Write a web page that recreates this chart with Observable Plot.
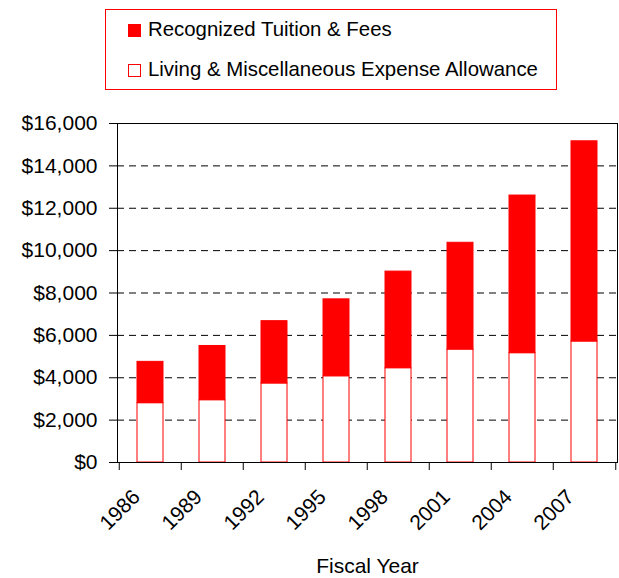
<!DOCTYPE html>
<html><head><meta charset="utf-8">
<script src="https://cdn.jsdelivr.net/npm/d3@7"></script>
<script src="https://cdn.jsdelivr.net/npm/@observablehq/plot@0.6"></script>
<style>
body{margin:0;background:#fff;font-family:"Liberation Sans",Arial,sans-serif;}
#wrap{position:relative;width:619px;height:578px;}
#chart{position:absolute;left:0;top:0;}
#legend{position:absolute;left:105px;top:9px;width:452px;height:81px;box-sizing:border-box;border:1px solid #ff0000;background:#fff;}
.sw{position:absolute;left:22px;width:13px;height:13px;box-sizing:border-box;border:1px solid #ff0000;}
.lt{position:absolute;left:42px;font-size:20.4px;line-height:22px;color:#000;white-space:nowrap;}
</style></head><body>
<div id="wrap"><div id="chart"></div><div id="legend"></div></div>
<script>
const years = ["1986","1989","1992","1995","1998","2001","2004","2007"];
const living = [2800, 2940, 3730, 4070, 4450, 5330, 5160, 5710];
const tuition = [1950, 2560, 2940, 3630, 4560, 5040, 7440, 9450];
const seriesNames = ["Recognized Tuition & Fees", "Living & Miscellaneous Expense Allowance"];
const seriesColors = ["#ff0000", "#ffffff"];
const yTicks = [0, 2000, 4000, 6000, 8000, 10000, 12000, 14000, 16000];
const xTitle = "Fiscal Year";

const data = [];
years.forEach((y, i) => {
  data.push({year: y, series: seriesNames[1], value: living[i]});
  data.push({year: y, series: seriesNames[0], value: tuition[i]});
});

const W = 619, H = 578, ML = 117, MR = 2, MT = 123, MB = 116;
const half = (W - ML - MR) / years.length / 2;
const fmt = d => "$" + d3.format(",")(d);
const FS = 21;

const chart = Plot.plot({
  width: W, height: H,
  marginLeft: ML, marginRight: MR, marginTop: MT, marginBottom: MB,
  style: {fontFamily: "'Liberation Sans', Arial, sans-serif", fontSize: FS + "px", color: "#000", background: "#fff"},
  x: {type: "band", domain: years, paddingInner: 0.58, paddingOuter: 0.29},
  y: {domain: [0, 16000]},
  color: {domain: seriesNames, range: seriesColors},
  marks: [
    Plot.gridY(yTicks.slice(1, -1), {stroke: "#000", strokeOpacity: 1, strokeDasharray: "7,5"}),
    Plot.barY(data, {x: "year", y: "value", fill: "series", stroke: "#ff0000", strokeWidth: 1}),
    Plot.frame({stroke: "#000", strokeWidth: 1}),
    Plot.axisY(yTicks, {tickSize: 8, tickPadding: 12, tickFormat: fmt, label: null, fontSize: FS}),
    Plot.axisX({tickSize: 8, tickFormat: () => "", label: null, dx: -half}),
    Plot.axisX([years[years.length - 1]], {tickSize: 8, tickFormat: () => "", label: null, dx: half}),
    Plot.axisX({tickSize: 0, tickRotate: -45, tickPadding: 31, dx: -14, fontSize: FS, label: xTitle, labelAnchor: "center", labelOffset: 110})
  ]
});
document.getElementById("chart").appendChild(chart);

const legend = document.getElementById("legend");
const rows = [{sw: 14, tx: 8.0}, {sw: 54, tx: 48.0}];
seriesNames.forEach((name, i) => {
  const s = document.createElement("div");
  s.className = "sw";
  s.style.top = rows[i].sw + "px";
  s.style.background = seriesColors[i];
  legend.appendChild(s);
  const t = document.createElement("div");
  t.className = "lt";
  t.style.top = rows[i].tx + "px";
  t.textContent = name;
  legend.appendChild(t);
});
</script>
</body></html>
